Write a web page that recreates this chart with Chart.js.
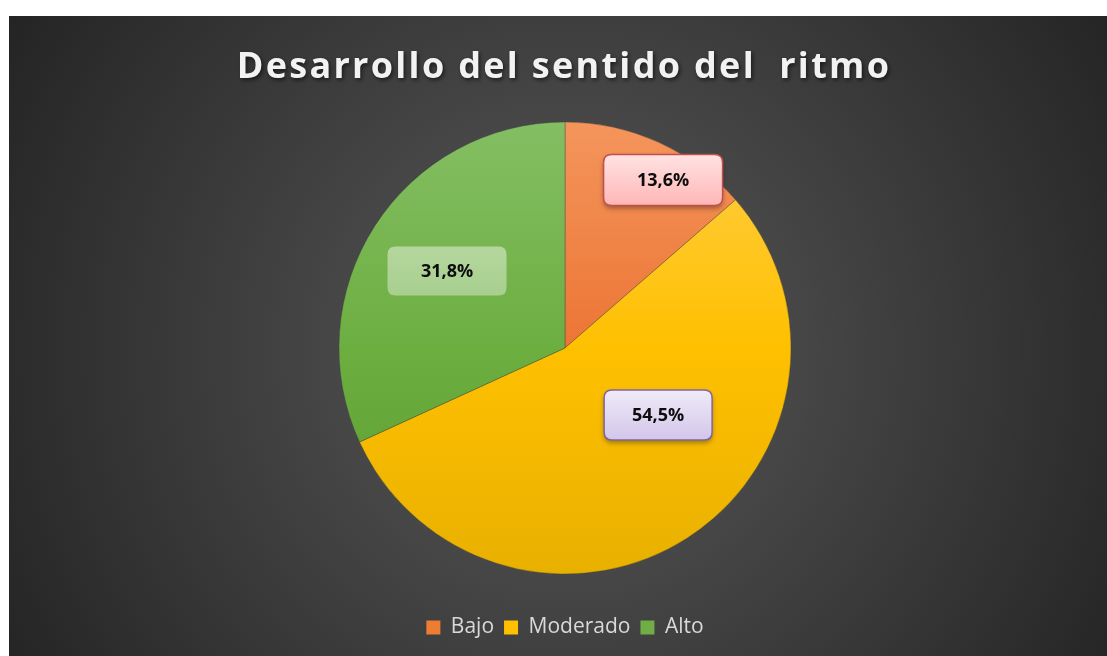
<!DOCTYPE html>
<html>
<head>
<meta charset="utf-8">
<script src="https://cdn.jsdelivr.net/npm/chart.js@4.4.1/dist/chart.umd.min.js"></script>
<style>
  html, body { margin: 0; padding: 0; background: #ffffff; width: 1107px; height: 656px; overflow: hidden; }
  #wrap { position: absolute; left: 9px; top: 16px; width: 1098px; height: 640px; }
  canvas { display: block; }
</style>
</head>
<body>
<div id="wrap"><canvas id="c" width="1098" height="640"></canvas></div>
<script>
// ---- data ----
const titleText = 'Desarrollo del sentido del  ritmo';
const categories = ['Bajo', 'Moderado', 'Alto'];
const percentValues = [13.6, 54.5, 31.8];

// ---- styles ----
const sliceGradients = [
  ['#f4955c', '#ec7535', '#df5e0e'],
  ['#ffce48', '#ffc000', '#e8b000'],
  ['#84be63', '#6dae41', '#5a9a2e']
];
const legendColors = ['#ed7d31', '#ffc000', '#70ad47'];
// label placement as fraction of pie radius from the centre, and box size
const labelAnchors = [[0.434, -0.743], [0.412, 0.296], [-0.522, -0.341]];
const labelBoxSize = [[119, 51], [108, 50], [119, 49]];
const labelFills = [
  ['#ffe3e3', '#ffb6b6', '#c0504d'],
  ['#f0ebf8', '#d2c6ea', '#8064a2'],
  ['rgba(255,255,255,0.45)', 'rgba(255,255,255,0.38)', null]
];
const PIE_RADIUS = 226;

function pieGradient(ctx, i) {
  const chart = ctx.chart;
  const area = chart.chartArea;
  if (!area) return legendColors[i];
  const cy = (area.top + area.bottom) / 2;
  const g = chart.ctx.createLinearGradient(0, cy - PIE_RADIUS, 0, cy + PIE_RADIUS);
  const s = sliceGradients[i];
  g.addColorStop(0, s[0]);
  g.addColorStop(0.5, s[1]);
  g.addColorStop(1, s[2]);
  return g;
}

const bgPlugin = {
  id: 'bg',
  beforeDraw(chart) {
    const { ctx, width, height } = chart;
    const cx = 556, cy = 332;
    const g = ctx.createRadialGradient(cx, cy, 0, cx, cy, 660);
    g.addColorStop(0, '#525252');
    g.addColorStop(0.32, '#484848');
    g.addColorStop(1, '#232323');
    ctx.save();
    ctx.fillStyle = g;
    ctx.fillRect(0, 0, width, height);
    // title
    ctx.font = 'bold 36px "Open Sans"';
    ctx.letterSpacing = '2.3px';
    ctx.textAlign = 'center';
    ctx.textBaseline = 'middle';
    ctx.shadowColor = 'rgba(0,0,0,0.6)';
    ctx.shadowBlur = 4;
    ctx.shadowOffsetX = 1.5;
    ctx.shadowOffsetY = 2;
    ctx.fillStyle = '#f2f2f2';
    ctx.fillText(titleText, width / 2 + 6, 52);
    ctx.restore();
  }
};

function roundRect(ctx, x, y, w, h, r) {
  ctx.beginPath();
  ctx.moveTo(x + r, y);
  ctx.lineTo(x + w - r, y);
  ctx.quadraticCurveTo(x + w, y, x + w, y + r);
  ctx.lineTo(x + w, y + h - r);
  ctx.quadraticCurveTo(x + w, y + h, x + w - r, y + h);
  ctx.lineTo(x + r, y + h);
  ctx.quadraticCurveTo(x, y + h, x, y + h - r);
  ctx.lineTo(x, y + r);
  ctx.quadraticCurveTo(x, y, x + r, y);
  ctx.closePath();
}

const labelPlugin = {
  id: 'boxLabels',
  afterDatasetsDraw(chart) {
    const ctx = chart.ctx;
    const meta = chart.getDatasetMeta(0);
    meta.data.forEach((arc, i) => {
      const r = arc.outerRadius;
      const px = arc.x + labelAnchors[i][0] * r;
      const py = arc.y + labelAnchors[i][1] * r;
      const [w, h] = labelBoxSize[i];
      const x = px - w / 2, y = py - h / 2;
      const f = labelFills[i];
      ctx.save();
      const g = ctx.createLinearGradient(0, y, 0, y + h);
      g.addColorStop(0, f[0]);
      g.addColorStop(1, f[1]);
      roundRect(ctx, x, y, w, h, 8);
      if (f[2]) {
        ctx.shadowColor = 'rgba(0,0,0,0.35)';
        ctx.shadowBlur = 5;
        ctx.shadowOffsetY = 3;
      }
      ctx.fillStyle = g;
      ctx.fill();
      ctx.shadowColor = 'transparent';
      if (f[2]) {
        ctx.lineWidth = 1.5;
        ctx.strokeStyle = f[2];
        ctx.stroke();
      }
      ctx.fillStyle = '#0d0d0d';
      ctx.font = 'bold 18px "Open Sans"';
      ctx.textAlign = 'center';
      ctx.textBaseline = 'middle';
      const v = chart.data.datasets[0].data[i];
      ctx.fillText(v.toFixed(1).replace('.', ',') + '%', px, py + 1);
      ctx.restore();
    });
  }
};

new Chart(document.getElementById('c'), {
  type: 'pie',
  data: {
    labels: categories,
    datasets: [{
      data: percentValues,
      backgroundColor: (ctx) => pieGradient(ctx, ctx.dataIndex),
      borderColor: 'rgba(60,60,60,0.35)',
      borderWidth: 1
    }]
  },
  options: {
    responsive: false,
    animation: false,
    radius: PIE_RADIUS,
    layout: { padding: { top: 73, bottom: 8, left: 14, right: 0 } },
    plugins: {
      title: { display: false },
      tooltip: { enabled: false },
      legend: {
        position: 'bottom',
        labels: {
          color: '#d9d9d9',
          font: { family: '"Open Sans"', size: 21 },
          boxWidth: 14,
          boxHeight: 14,
          padding: 10,
          generateLabels: (chart) => chart.data.labels.map((l, i) => ({
            text: l,
            fillStyle: legendColors[i],
            strokeStyle: legendColors[i],
            lineWidth: 0,
            fontColor: '#d9d9d9',
            index: i,
            hidden: false
          }))
        }
      }
    }
  },
  plugins: [bgPlugin, labelPlugin]
});
</script>
</body>
</html>
